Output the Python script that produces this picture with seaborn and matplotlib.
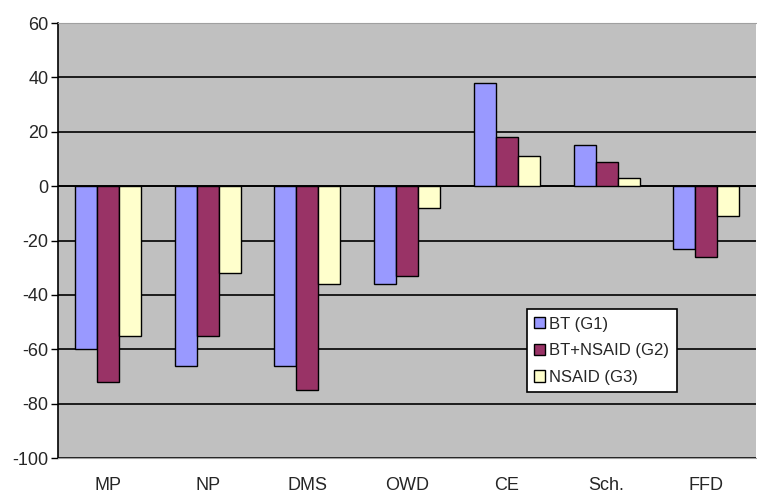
import matplotlib
matplotlib.use('Agg')
import matplotlib.pyplot as plt
import seaborn as sns
import pandas as pd

# Data
categories = ['MP', 'NP', 'DMS', 'OWD', 'CE', 'Sch.', 'FFD']
bt_g1 = [-60, -66, -66, -36, 38, 15, -23]
bt_nsaid_g2 = [-72, -55, -75, -33, 18, 9, -26]
nsaid_g3 = [-55, -32, -36, -8, 11, 3, -11]
groups = ['BT (G1)', 'BT+NSAID (G2)', 'NSAID (G3)']
colors = ['#9999FF', '#993366', '#FFFFCC']

df = pd.DataFrame({
    'cat': categories * 3,
    'value': bt_g1 + bt_nsaid_g2 + nsaid_g3,
    'group': [g for g in groups for _ in categories],
})

sns.set_style('white')
plt.rcParams['font.family'] = ['Liberation Sans', 'DejaVu Sans']
plt.rcParams['axes.unicode_minus'] = False

fig = plt.figure(figsize=(7.57, 4.95), dpi=100)
ax = fig.add_axes([0.0766, 0.0747, 0.9224, 0.8788])
ax.set_facecolor('#C0C0C0')

sns.barplot(data=df, x='cat', y='value', hue='group', palette=colors,
            width=0.66, gap=0, edgecolor='black', linewidth=1.0,
            saturation=1, ax=ax, zorder=3)

# Gridlines
ax.set_ylim(-100, 60)
ax.set_yticks(range(-100, 61, 20))
ax.yaxis.grid(True, color='black', linewidth=1.2, zorder=1)
ax.set_axisbelow(True)
ax.axhline(0, color='black', linewidth=1.2, zorder=2)

ax.tick_params(axis='y', length=5, width=1, color='black', labelsize=13, pad=2, left=True)
ax.tick_params(axis='x', length=0, labelsize=13, pad=14)

ax.spines['left'].set_color('black')
ax.spines['left'].set_linewidth(1.2)
ax.spines['top'].set_color('#A0A0A0')
ax.spines['bottom'].set_color('#A0A0A0')
ax.spines['right'].set_visible(False)

ax.set_xlabel('')
ax.set_ylabel('')

leg = ax.legend(loc='upper left', bbox_to_anchor=(0.671, 0.3425), frameon=True,
                fancybox=False, edgecolor='black', facecolor='white', framealpha=1,
                fontsize=12, handlelength=0.65, handleheight=0.65, handletextpad=0.25,
                borderpad=0.45, labelspacing=0.7, borderaxespad=0)
leg.get_frame().set_linewidth(1.2)

fig.savefig('out.png', dpi=100)
